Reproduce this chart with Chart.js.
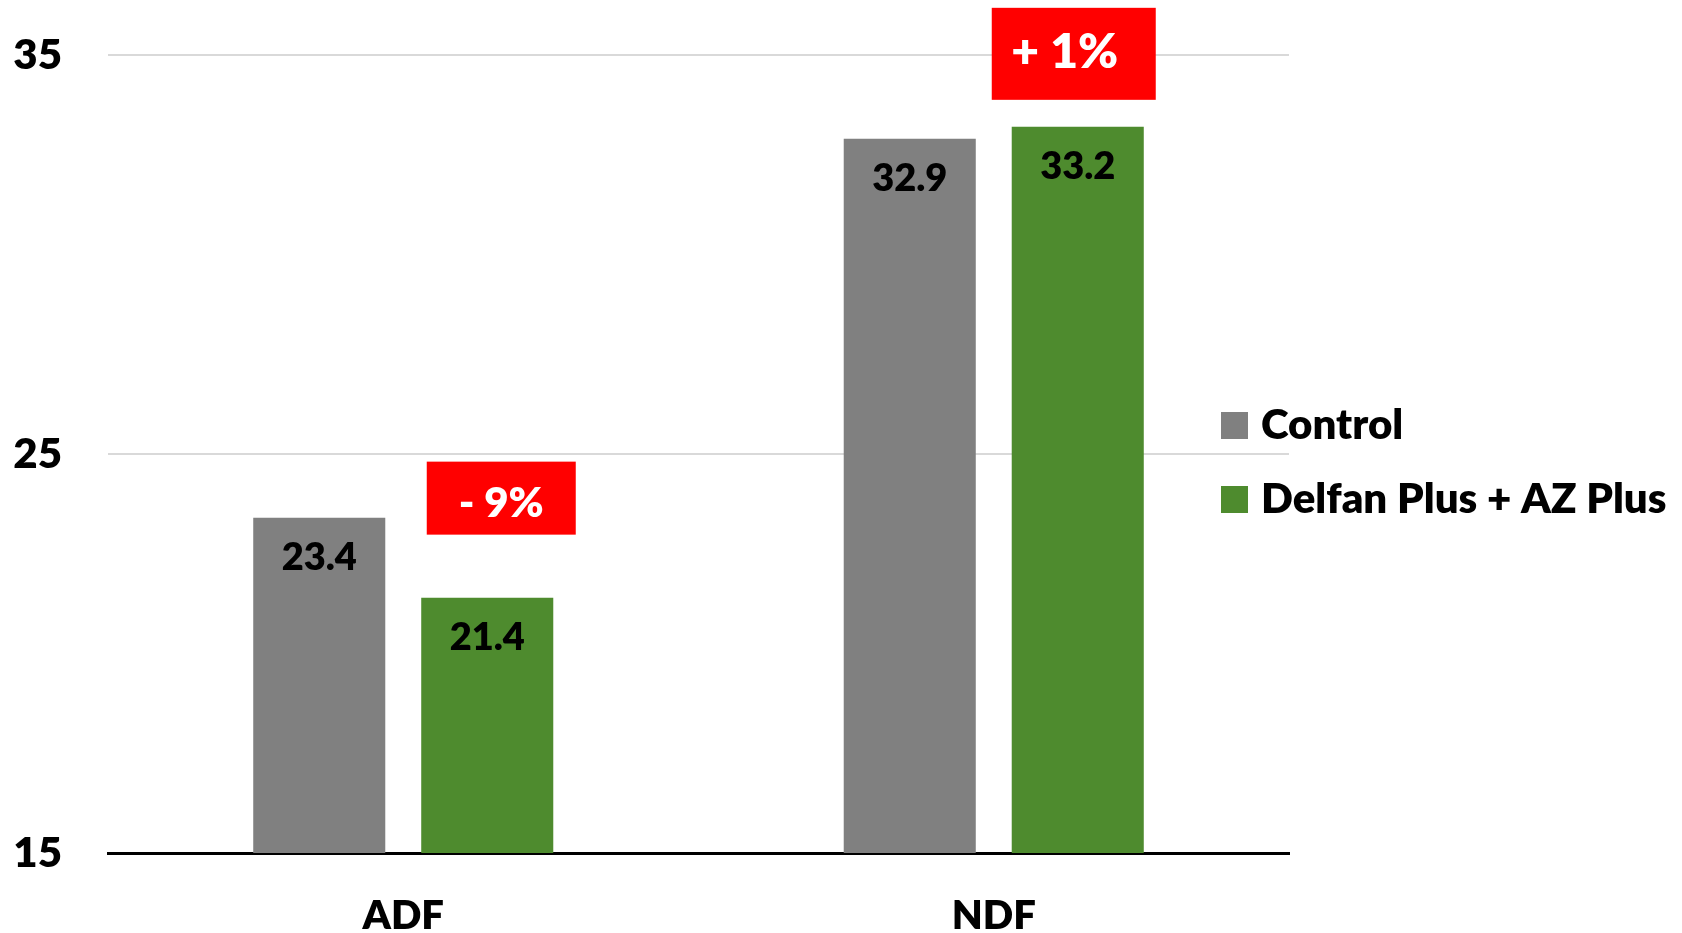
<!DOCTYPE html>
<html>
<head>
<meta charset="utf-8">
<script src="https://cdn.jsdelivr.net/npm/chart.js@4.4.1/dist/chart.umd.min.js"></script>
<style>
  html, body { margin: 0; padding: 0; background: #fff; }
  #wrap { width: 1682px; height: 933px; position: relative; }
</style>
</head>
<body>
<div id="wrap"><canvas id="chart"></canvas></div>
<script>
// Data
const categories = ['ADF', 'NDF'];
const seriesNames = ['Control', 'Delfan Plus + AZ Plus'];
const controlValues = [23.4, 32.9];
const treatedValues = [21.4, 33.2];
const changeLabels = ['- 9%', '+ 1%'];
const yTicks = [15, 25, 35];

const FONT = "'Lato', 'Open Sans', sans-serif";
const WEIGHT = '800';
const GRAY = '#808080';
const GREEN = '#4E8B2E';

// value labels inside the bars
const valueLabels = {
    id: 'valueLabels',
    afterDatasetsDraw(chart) {
        const ctx = chart.ctx;
        ctx.save();
        ctx.font = WEIGHT + ' 38px ' + FONT;
        ctx.fillStyle = '#000';
        ctx.textAlign = 'center';
        ctx.textBaseline = 'alphabetic';
        chart.data.datasets.forEach((ds, di) => {
            chart.getDatasetMeta(di).data.forEach((bar, i) => {
                ctx.fillText(ds.data[i].toFixed(1), bar.x, bar.y + 52);
            });
        });
        ctx.restore();
    }
};

// red change boxes above the treated bars
const changeBoxes = {
    id: 'changeBoxes',
    afterDatasetsDraw(chart) {
        const ctx = chart.ctx;
        const styles = [
            { dx: 14, gap: 63, w: 149, h: 73, size: 42, tx: 0, ty: 4 },
            { dx: -4, gap: 27, w: 164, h: 92, size: 48, tx: -9, ty: -3 }
        ];
        const bars = chart.getDatasetMeta(1).data;
        ctx.save();
        changeLabels.forEach((txt, i) => {
            const s = styles[i];
            const bar = bars[i];
            const cx = bar.x + s.dx;
            const bottom = bar.y - s.gap;
            ctx.fillStyle = '#FF0000';
            ctx.fillRect(cx - s.w / 2, bottom - s.h, s.w, s.h);
            ctx.fillStyle = '#fff';
            ctx.font = WEIGHT + ' ' + s.size + 'px ' + FONT;
            ctx.textAlign = 'center';
            ctx.textBaseline = 'alphabetic';
            const cy = bottom - s.h / 2 + s.ty;
            ctx.fillText(txt, cx + s.tx, cy + s.size * 0.36);
        });
        ctx.restore();
    }
};

// legend drawn over the right end of the plot
const sideLegend = {
    id: 'sideLegend',
    afterDraw(chart) {
        const ctx = chart.ctx;
        const area = chart.chartArea;
        const x = area.right - 68;
        const rows = [439, 513];
        ctx.save();
        ctx.font = WEIGHT + ' 42px ' + FONT;
        ctx.textAlign = 'left';
        ctx.textBaseline = 'alphabetic';
        chart.data.datasets.forEach((ds, i) => {
            const base = rows[i];
            ctx.fillStyle = ds.backgroundColor;
            ctx.fillRect(x, base - 27, 27, 27);
            ctx.fillStyle = '#000';
            ctx.fillText(ds.label, x + 40, base);
        });
        ctx.restore();
    }
};

new Chart(document.getElementById('chart'), {
    type: 'bar',
    data: {
        labels: categories,
        datasets: [
            { label: seriesNames[0], data: controlValues, backgroundColor: GRAY },
            { label: seriesNames[1], data: treatedValues, backgroundColor: GREEN }
        ]
    },
    options: {
        responsive: true,
        maintainAspectRatio: false,
        animation: false,
        layout: { padding: { top: 55, right: 393, left: 0, bottom: 0 } },
        datasets: {
            bar: { categoryPercentage: 0.569, barPercentage: 0.786 }
        },
        plugins: {
            legend: { display: false },
            tooltip: { enabled: false }
        },
        scales: {
            x: {
                grid: { display: false, drawTicks: false },
                border: { display: true, color: '#000', width: 3 },
                ticks: { color: '#000', font: { family: FONT, size: 40, weight: WEIGHT }, padding: 39 },
                afterFit: s => { s.height = 80; }
            },
            y: {
                min: 15,
                max: 35,
                afterBuildTicks: s => { s.ticks = yTicks.map(v => ({ value: v })); },
                grid: {
                    drawTicks: false,
                    lineWidth: 2,
                    color: c => c.tick && c.tick.value === 15 ? 'rgba(0,0,0,0)' : '#D9D9D9'
                },
                border: { display: false },
                ticks: { color: '#000', font: { family: FONT, size: 42, weight: WEIGHT }, padding: 46 },
                afterFit: s => { s.width = 108; s.paddingTop = 0; s.paddingBottom = 0; }
            }
        }
    },
    plugins: [valueLabels, changeBoxes, sideLegend]
});
</script>
</body>
</html>
